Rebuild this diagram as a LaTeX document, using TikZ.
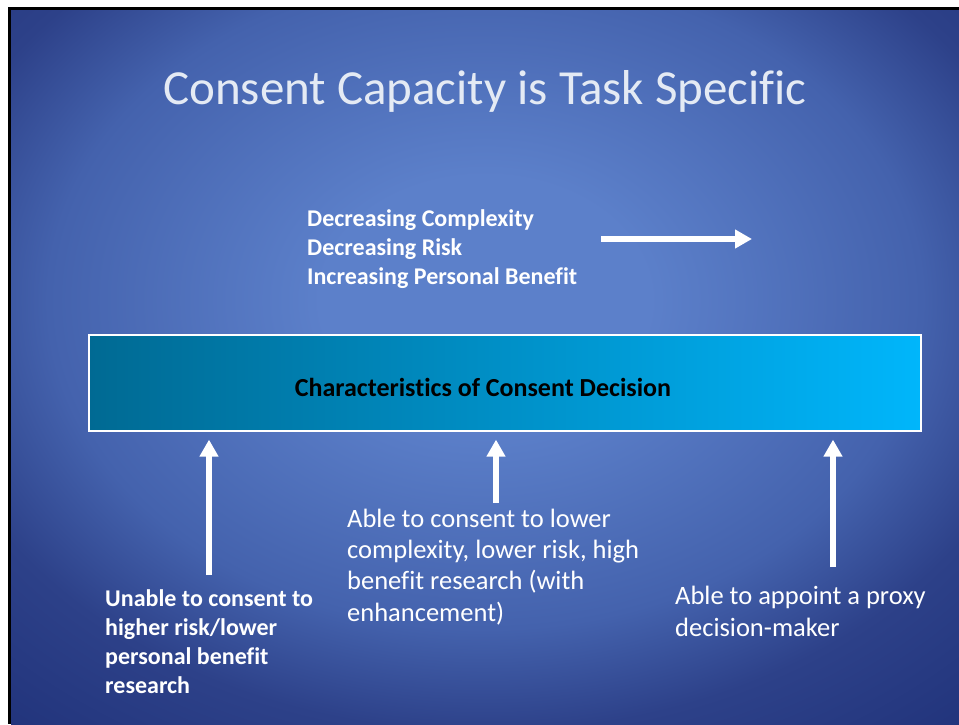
\documentclass[tikz,border=0pt]{standalone}
\usepackage{fontspec}
\setmainfont{Carlito}[Ligatures=CommonOff]
\usetikzlibrary{arrows.meta}
\definecolor{bgin}{HTML}{5C80CA}
\definecolor{bgmid}{HTML}{4462AD}
\definecolor{bgtop}{HTML}{2D4189}
\definecolor{bgdark}{HTML}{20327A}
\definecolor{bgout}{HTML}{0E2663}
\definecolor{boxl}{HTML}{006A93}
\definecolor{boxr}{HTML}{00B6FB}
\definecolor{titlec}{HTML}{E4EAF4}
\pgfdeclareradialshading{slidebg}{\pgfpoint{0bp}{0bp}}{color(0bp)=(bgin); color(6bp)=(bgin); color(16bp)=(bgmid); color(21bp)=(bgtop); color(28bp)=(bgdark); color(33bp)=(bgout); color(50bp)=(bgout)}

\begin{document}
\begin{tikzpicture}[x=1pt,y=-1pt,
    whitearrow/.style={draw=white,line width=6pt,-{Triangle[width=18pt,length=17pt]}},
    boldtext/.style={font=\bfseries\fontsize{24}{29}\selectfont,text=white,align=left,inner sep=0pt,anchor=base west},
    plaintext/.style={font=\fontsize{26.5}{31.3}\selectfont,text=white,align=left,inner sep=0pt,anchor=base west}]
% Background
\useasboundingbox (0,0) rectangle (959,724);
\fill[white] (0,0) rectangle (959,724);
\fill[black] (8,7) rectangle (959,724);
\begin{scope}
  \clip (11,10) rectangle (959,724);
  \shade[shading=slidebg] (-198,-214) rectangle (1168,814);
\end{scope}
% Title
\node[font=\fontsize{49}{58}\selectfont,text=titlec,inner sep=0pt,anchor=base] (title) at (485,104) {Consent Capacity is Task Specific};
% Trend (base = last line)
\node[boldtext] (trend) at (307,284) {Decreasing Complexity\\Decreasing Risk\\Increasing Personal Benefit};
\coordinate (t0) at (601,239);
\coordinate (t1) at (752,239);
\draw[whitearrow] (t0) -- (t1);
% Decision box
\node[draw=white,line width=1.2pt,left color=boxl,right color=boxr,minimum width=832pt,minimum height=96pt,inner sep=0pt] (decision) at (505,383) {};
\node[font=\bfseries\fontsize{26}{29}\selectfont,inner sep=0pt,anchor=base] (dectext) at (483,396) {Characteristics of Consent Decision};
% Capacities
\node[boldtext] (unable) at (105,693) {Unable to consent to\\higher risk/lower\\personal benefit\\research};
\node[plaintext] (able) at (347,621) {Able to consent to lower\\complexity, lower risk, high\\benefit research (with\\enhancement)};
\node[plaintext] (proxy) at (675,636) {Able to appoint a proxy\\decision-maker};
% Arrows
\coordinate (u0) at (209,575);
\coordinate (a0) at (496,503);
\coordinate (p0) at (833,567);
\draw[whitearrow,shorten >=8pt] (u0) -- (u0 |- decision.south);
\draw[whitearrow,shorten >=8pt] (a0) -- (a0 |- decision.south);
\draw[whitearrow,shorten >=8pt] (p0) -- (p0 |- decision.south);
\end{tikzpicture}
\end{document}
